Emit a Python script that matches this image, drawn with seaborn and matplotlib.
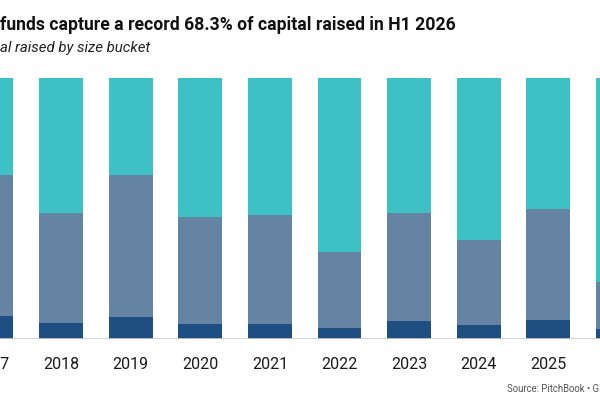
import matplotlib
matplotlib.use("Agg")
import matplotlib.pyplot as plt
import seaborn as sns
import numpy as np

# share of capital raised (%) by fund size bucket
years = ["2017", "2018", "2019", "2020", "2021", "2022", "2023", "2024", "2025", "2026"]
small_share = [8.8, 6.2, 8.4, 5.7, 5.7, 4.3, 6.9, 5.5, 7.3, 3.8]
mid_share = [54.1, 42.0, 54.3, 41.0, 41.8, 29.0, 41.4, 32.4, 42.5, 18.2]
large_share = [37.1, 51.8, 37.3, 53.3, 52.5, 66.7, 51.7, 62.1, 50.2, 78.0]

colors = {"large": "#3ec1c4", "mid": "#6584a3", "small": "#1f4e82"}

sns.set_theme(style="white")
plt.rcParams["font.family"] = ["Roboto", "DejaVu Sans"]

fig = plt.figure(figsize=(6, 4), dpi=100)
# axes start left of the figure edge, the chart is seen through a crop
ax = fig.add_axes([-0.1, 0.1525, 1.1, 0.6525])

small = np.array(small_share)
mid = np.array(mid_share)
large = np.array(large_share)

# draw the stacked layers from the top down so each lower one covers the last
sns.barplot(x=years, y=small + mid + large, color=colors["large"], width=0.63,
            linewidth=0, saturation=1, errorbar=None, ax=ax)
sns.barplot(x=years, y=small + mid, color=colors["mid"], width=0.63,
            linewidth=0, saturation=1, errorbar=None, ax=ax)
sns.barplot(x=years, y=small, color=colors["small"], width=0.63,
            linewidth=0, saturation=1, errorbar=None, ax=ax)

ax.set_xlim(-0.740, 8.743)
ax.set_ylim(0, 100)
ax.axhline(0, color="#cccccc", lw=1.2, zorder=5)
sns.despine(ax=ax, left=True, bottom=True)
ax.set_yticks([])
ax.set_xlabel("")
ax.set_ylabel("")
ax.tick_params(axis="x", length=0, pad=13, labelsize=11.5, labelcolor="#1a1a1a")

fig.text(0.0, 0.937, "funds capture a record 68.3% of capital raised in H1 2026",
         fontsize=12.7, fontweight="bold", color="#111111", va="center", ha="left")
fig.text(0.0, 0.88, "al raised by size bucket", fontsize=10.8, style="italic",
         color="#222222", va="center", ha="left")
fig.text(0.845, 0.027, "Source: PitchBook \u2022 G", fontsize=6.9, color="#555555",
         va="center", ha="left")

fig.savefig("out.png", dpi=100)
